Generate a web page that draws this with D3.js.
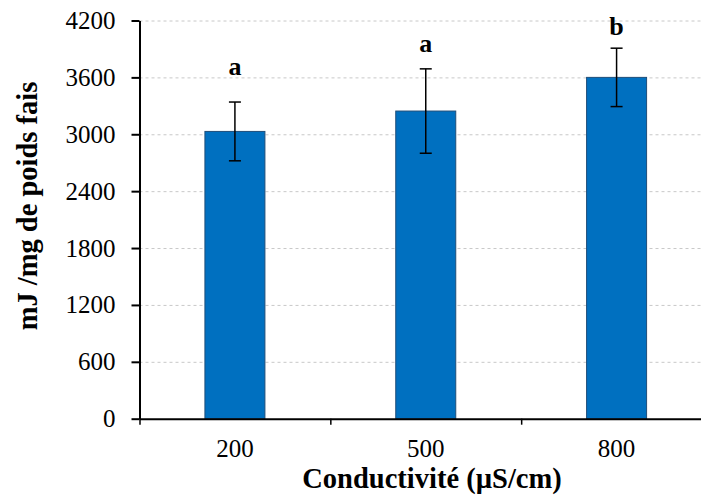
<html>
  <head>
    <meta charset="utf-8">
    <title>Conductivite</title>
    <script src="https://cdn.jsdelivr.net/npm/d3@7/dist/d3.min.js"></script>
    <style type="text/css">
      body { margin: 0; background: #fff; }
      text { font-family: "Liberation Serif", "Times New Roman", serif; fill: #000; }
      .grid line { stroke: #c8c8c8; stroke-dasharray: 3,3; }
      .grid path { display: none; }
      rect.bar { fill: #0070c0; stroke: #1f4e79; stroke-width: 1; }
      .err { stroke: #000; stroke-width: 1.5; }
    </style>
  </head>
  <body>
    <svg width="701" height="502"></svg>
    <script>
      var categories = ['200', '500', '800'];
      var values = [3030, 3245, 3600];
      var errors = [310, 445, 308];
      var letters = ['a', 'a', 'b'];
      var letterAt = [3625, 3867, 4047];
      var yTicks = [0, 600, 1200, 1800, 2400, 3000, 3600, 4200];

      var mLeft = 139.5, mRight = 712, mTop = 20.5, mBottom = 418.7;
      var svg = d3.select('svg');

      var x = d3.scaleBand().domain(categories).range([mLeft, mRight]);
      var xb = d3.scaleLinear().domain([0, categories.length]).range([mLeft, mRight]);
      var y = d3.scaleLinear().domain([0, 4200]).range([mBottom, mTop]);

      svg.append('g').attr('class', 'grid')
        .attr('transform', 'translate(' + mLeft + ',0)')
        .call(d3.axisRight(y).tickValues(yTicks.slice(1)).tickSize(mRight - mLeft).tickFormat(''));

      var bw = 60;
      svg.selectAll('rect.bar').data(values).enter().append('rect')
        .attr('class', 'bar')
        .attr('x', function(d, i){ return x(categories[i]) + x.bandwidth() / 2 - bw / 2; })
        .attr('width', bw)
        .attr('y', function(d){ return y(d); })
        .attr('height', function(d){ return mBottom - y(d); });

      var eb = svg.selectAll('g.eb').data(values).enter().append('g');
      eb.append('line').attr('class', 'err')
        .attr('x1', function(d, i){ return x(categories[i]) + x.bandwidth() / 2; })
        .attr('x2', function(d, i){ return x(categories[i]) + x.bandwidth() / 2; })
        .attr('y1', function(d, i){ return y(d - errors[i]); })
        .attr('y2', function(d, i){ return y(d + errors[i]); });
      [1, -1].forEach(function(s){
        eb.append('line').attr('class', 'err')
          .attr('x1', function(d, i){ return x(categories[i]) + x.bandwidth() / 2 - 6; })
          .attr('x2', function(d, i){ return x(categories[i]) + x.bandwidth() / 2 + 6; })
          .attr('y1', function(d, i){ return y(d + s * errors[i]); })
          .attr('y2', function(d, i){ return y(d + s * errors[i]); });
      });

      svg.selectAll('text.lab').data(letters).enter().append('text')
        .attr('class', 'lab')
        .attr('x', function(d, i){ return x(categories[i]) + x.bandwidth() / 2; })
        .attr('y', function(d, i){ return y(letterAt[i]); })
        .attr('text-anchor', 'middle')
        .style('font-size', '26px').style('font-weight', 'bold')
        .text(function(d){ return d; });

      var ya = svg.append('g').attr('transform', 'translate(' + mLeft + ',0)')
        .call(d3.axisLeft(y).tickValues(yTicks).tickFormat(d3.format('d'))
          .tickSize(8).tickPadding(16).tickSizeOuter(0));
      ya.selectAll('text').style('font-size', '25px').style('font-family', '"Liberation Serif", serif');
      ya.select('.domain').attr('stroke-width', 2);
      ya.selectAll('.tick line').attr('stroke-width', 2);

      var xa = svg.append('g').attr('transform', 'translate(0,' + mBottom + ')')
        .call(d3.axisBottom(xb).ticks(categories.length).tickSize(6).tickFormat('').tickSizeOuter(0));
      xa.select('.domain').attr('stroke-width', 2);
      xa.selectAll('.tick line').attr('stroke-width', 1.5);

      var xl = svg.append('g').attr('transform', 'translate(0,' + mBottom + ')')
        .call(d3.axisBottom(x).tickSize(0).tickPadding(21));
      xl.select('.domain').remove();
      xl.selectAll('text').style('font-size', '25px').style('font-family', '"Liberation Serif", serif');

      svg.append('text')
        .attr('x', 432).attr('y', 488)
        .attr('text-anchor', 'middle')
        .style('font-size', '28.5px').style('font-weight', 'bold')
        .text('Conductivité (µS/cm)');

      svg.append('text')
        .attr('transform', 'translate(37,206) rotate(-90)')
        .attr('text-anchor', 'middle')
        .style('font-size', '28.5px').style('font-weight', 'bold')
        .text('mJ /mg de poids fais');
    </script>
  </body>
</html>
